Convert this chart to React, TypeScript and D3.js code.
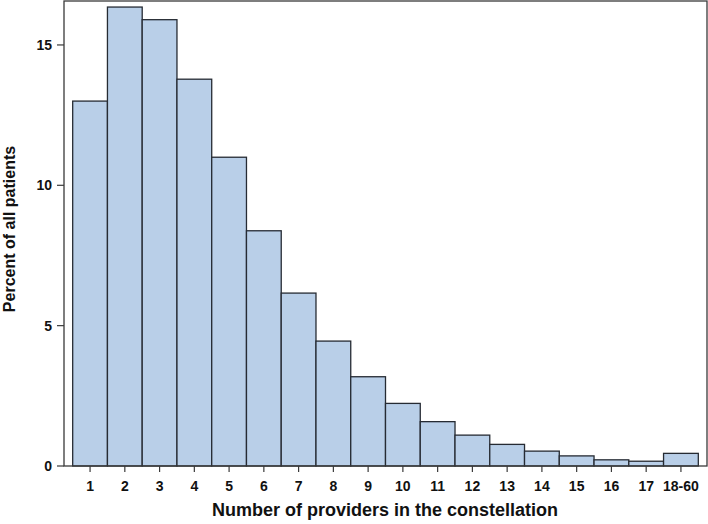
import React from "react";
import * as d3 from "d3";

const categories = ["1","2","3","4","5","6","7","8","9","10","11","12","13","14","15","16","17","18-60"];
const percents = [13.0, 16.35, 15.9, 13.78, 11.0, 8.38, 6.16, 4.45, 3.18, 2.23, 1.58, 1.1, 0.77, 0.53, 0.36, 0.22, 0.17, 0.45];
const yTicks = [0, 5, 10, 15];

export default function App() {
  const W = 708, H = 524;
  const left = 64, right = 707, top = 1, bottom = 466;
  const x = d3.scaleBand<string>().domain(categories).range([left, right]).paddingInner(0).paddingOuter(0.25);
  const y = d3.scaleLinear().domain([0, 15]).range([bottom, bottom - 15 * 28.07]);
  const font = "'Liberation Sans', Arial, sans-serif";
  return (
    <svg width={W} height={H} style={{ position: "absolute", left: 0, top: 0 }}>
      <rect x={0} y={0} width={W} height={H} fill="#fff" />
      {categories.map((c, i) => (
        <rect key={c} x={x(c)} y={y(percents[i])} width={x.bandwidth()} height={bottom - y(percents[i])}
          fill="#b9cfe8" stroke="#262b33" strokeWidth={1.3} />
      ))}
      <rect x={left} y={top} width={right - left} height={bottom - top} fill="none" stroke="#3a3a3a" strokeWidth={1.3} />
      {yTicks.map(t => (
        <g key={t}>
          <line x1={left - 7} x2={left} y1={y(t)} y2={y(t)} stroke="#3a3a3a" strokeWidth={1.2} />
          <text x={left - 12} y={y(t) + 5} textAnchor="end" fontFamily={font} fontWeight="bold" fontSize={14} fill="#111">{t}</text>
        </g>
      ))}
      {categories.map(c => {
        const cx = x(c)! + x.bandwidth() / 2;
        return (
          <g key={c}>
            <line x1={cx} x2={cx} y1={bottom} y2={bottom + 6} stroke="#3a3a3a" strokeWidth={1.2} />
            <text x={cx} y={491} textAnchor="middle" fontFamily={font} fontWeight="bold" fontSize={14} fill="#111"
              textLength={c === "18-60" ? 36 : undefined} lengthAdjust="spacingAndGlyphs">{c}</text>
          </g>
        );
      })}
      <text x={385} y={516} textAnchor="middle" fontFamily={font} fontWeight="bold" fontSize={18} fill="#111">Number of providers in the constellation</text>
      <text transform={`translate(15,229) rotate(-90)`} textAnchor="middle" fontFamily={font} fontWeight="bold" fontSize={16} fill="#111">Percent of all patients</text>
    </svg>
  );
}
